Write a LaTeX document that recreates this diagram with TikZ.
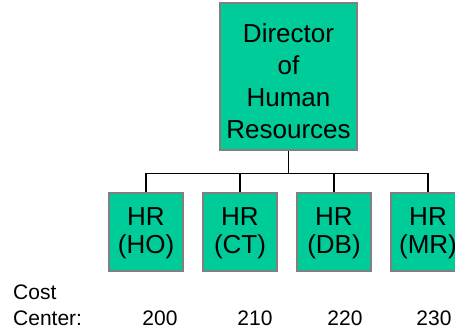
\documentclass[tikz,border=0pt]{standalone}
\usepackage{fontspec}
\setmainfont{Liberation Sans}
\definecolor{boxgreen}{RGB}{0,204,153}
\definecolor{boxedge}{RGB}{128,128,128}
\tikzset{
  orgbox/.style={draw=boxedge, line width=1.5pt, fill=boxgreen, inner sep=0pt},
  hrbox/.style={orgbox, minimum width=74pt, minimum height=78pt},
  boxtext/.style={inner sep=0pt, align=center, font=\fontsize{26}{28}\selectfont},
  dirtextstyle/.style={inner sep=0pt, align=center, font=\fontsize{26}{31.9}\selectfont},
  conn/.style={draw=black, line width=1.4pt},
  lbl/.style={font=\fontsize{21}{26}\selectfont, inner sep=0pt}
}
\begin{document}
\begin{tikzpicture}[x=1pt,y=-1pt]
\useasboundingbox (0,0) rectangle (455,331);
\clip (0,0) rectangle (455,331);
\fill[white] (0,0) rectangle (455,331);
\node[orgbox, minimum width=137pt, minimum height=147pt] (dir) at (288.5,76.5) {};
\node[dirtextstyle] (dirtext) at (288.5,81.5) {Director\\of\\Human\\Resources};
\node[hrbox] (ho) at (146,232) {};
\node[hrbox] (ct) at (240,232) {};
\node[hrbox] (db) at (334,232) {};
\node[hrbox] (mr) at (428,232) {};
\node[boxtext] (hotext) at (146,233.5) {HR\\(HO)};
\node[boxtext] (cttext) at (240,233.5) {HR\\(CT)};
\node[boxtext] (dbtext) at (334,233.5) {HR\\(DB)};
\node[boxtext] (mrtext) at (428,233.5) {HR\\(MR)};
\draw[conn] (dir.south) -- ++(0,23) coordinate (j);
\draw[conn] (ho.north) |- (j) -| (mr.north);
\draw[conn] (ct.north) -- (ct.north |- j);
\draw[conn] (db.north) -- (db.north |- j);
\node[lbl, anchor=base west] (cost) at (13,299) {Cost};
\node[lbl, anchor=base west] (center) at (13,325) {Center:};
\node[lbl, anchor=base] (c200) at (160,325) {200};
\node[lbl, anchor=base] (c210) at (255,325) {210};
\node[lbl, anchor=base] (c220) at (345,325) {220};
\node[lbl, anchor=base] (c230) at (434,325) {230};
\end{tikzpicture}
\end{document}
